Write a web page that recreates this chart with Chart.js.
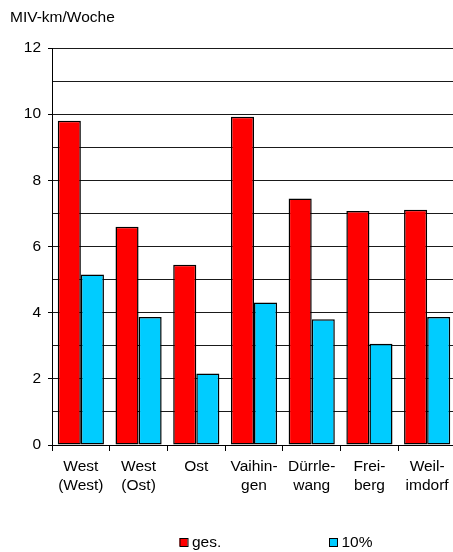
<!DOCTYPE html>
<html>
<head>
<meta charset="utf-8">
<script src="https://cdn.jsdelivr.net/npm/chart.js@4/dist/chart.umd.min.js"></script>
<style>
  html, body { margin: 0; padding: 0; background: #fff; overflow: hidden; }
  canvas { display: block; }
</style>
</head>
<body>
<canvas id="chart" width="460" height="552"></canvas>
<script>
// Districts (two-line labels where the name is hyphenated)
const districts = [
  ['West', '(West)'],
  ['West', '(Ost)'],
  'Ost',
  ['Vaihin-', 'gen'],
  ['Dürrle-', 'wang'],
  ['Frei-', 'berg'],
  ['Weil-', 'imdorf']
];

// Car kilometres per week
const seriesNames = ['ges.', '10%'];
const gesamt = [9.8, 6.6, 5.45, 9.92, 7.45, 7.07, 7.11];
const zehnProzent = [5.15, 3.87, 2.16, 4.31, 3.8, 3.06, 3.87];
const seriesColors = ['#ff0000', '#00ccff'];

const axisTitle = 'MIV-km/Woche';
const yMin = 0, yMax = 12, yStep = 1;

const FONT = '"Liberation Sans", Arial, sans-serif';
const FONT_SIZE = 15.5;

// Legend drawn under the axis, items spread apart
const spreadLegend = {
  id: 'spreadLegend',
  afterDraw(chart) {
    const ctx = chart.ctx;
    const starts = [179.5, 329];
    const y = chart.height - 10;
    ctx.save();
    ctx.font = FONT_SIZE + 'px ' + FONT;
    ctx.textBaseline = 'middle';
    ctx.textAlign = 'left';
    chart.data.datasets.forEach((ds, i) => {
      const x = starts[i];
      ctx.fillStyle = ds.backgroundColor;
      ctx.fillRect(x, y - 4, 8, 8);
      ctx.strokeStyle = '#000';
      ctx.lineWidth = 1;
      ctx.strokeRect(x + 0.5, y - 3.5, 8, 8);
      ctx.fillStyle = '#000';
      ctx.fillText(ds.label, x + 12.5, y + 0.5);
    });
    ctx.restore();
  }
};

const barStyle = {
  borderColor: '#000',
  borderWidth: 1.5,
  borderSkipped: false,
  categoryPercentage: 0.8,
  barPercentage: 1.0
};

new Chart(document.getElementById('chart'), {
  type: 'bar',
  data: {
    labels: districts,
    datasets: [
      Object.assign({ label: seriesNames[0], data: gesamt, backgroundColor: seriesColors[0] }, barStyle),
      Object.assign({ label: seriesNames[1], data: zehnProzent, backgroundColor: seriesColors[1] }, barStyle)
    ]
  },
  options: {
    responsive: false,
    animation: false,
    devicePixelRatio: 1,
    layout: { padding: { left: 10, right: 4, top: 0, bottom: 40 } },
    plugins: {
      legend: { display: false },
      tooltip: { enabled: false },
      title: {
        display: true,
        text: axisTitle,
        align: 'start',
        color: '#000',
        font: { family: FONT, size: FONT_SIZE, weight: 'normal', lineHeight: 1.2 },
        padding: { top: 8, bottom: 21.4 }
      }
    },
    scales: {
      x: {
        offset: true,
        grid: {
          offset: true,
          drawOnChartArea: false,
          drawTicks: true,
          tickLength: 6,
          tickColor: '#000'
        },
        border: { display: true, color: '#000', width: 1 },
        ticks: {
          color: '#000',
          padding: 7,
          maxRotation: 0,
          autoSkip: false,
          font: { family: FONT, size: FONT_SIZE, lineHeight: 1.18 }
        },
        afterFit(scale) { scale.height = 67; }
      },
      y: {
        min: yMin,
        max: yMax,
        grid: {
          color: '#1a1a1a',
          lineWidth: 1,
          drawTicks: true,
          tickLength: 4,
          tickColor: (c) => (c.tick && c.tick.value % 2 === 0 ? '#000' : 'rgba(0,0,0,0)')
        },
        border: { display: true, color: '#000', width: 1 },
        ticks: {
          stepSize: yStep,
          autoSkip: false,
          color: '#000',
          padding: 7,
          font: { family: FONT, size: FONT_SIZE },
          callback: (v) => (v % 2 === 0 ? String(v) : '')
        },
        afterFit(scale) { scale.width = 42; }
      }
    }
  },
  plugins: [spreadLegend]
});
</script>
</body>
</html>
